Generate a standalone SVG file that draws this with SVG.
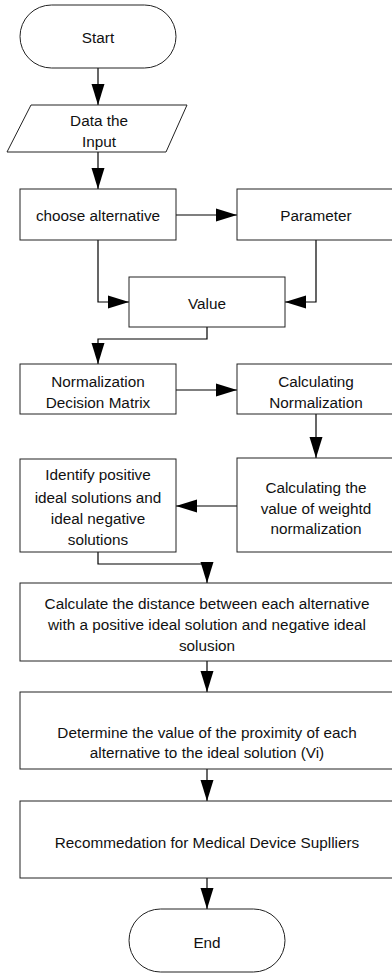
<svg xmlns="http://www.w3.org/2000/svg" width="392" height="974" viewBox="0 0 392 974">
<style>
.s{fill:#fff;stroke:#222;stroke-width:1}
.t{font-family:"Liberation Sans",Arial,sans-serif;font-size:15.3px;fill:#111;text-anchor:middle}
.c{fill:none;stroke:#000;stroke-width:1.2}
</style>
<defs>
<marker id="a" markerUnits="userSpaceOnUse" markerWidth="21" markerHeight="14" refX="21" refY="7" orient="auto">
<path d="M0,0.5 L21,7 L0,13.5 z" fill="#000"/>
</marker>
</defs>
<rect width="392" height="974" fill="#fff"/>
<g id="connectors">
<path class="c" d="M98,68 V105" marker-end="url(#a)"/>
<path class="c" d="M98,152 V189" marker-end="url(#a)"/>
<path class="c" d="M176,215 H237" marker-end="url(#a)"/>
<path class="c" d="M98,240 V302 H129" marker-end="url(#a)"/>
<path class="c" d="M316,240 V302 H285" marker-end="url(#a)"/>
<path class="c" d="M207,327 V339 H98 V364" marker-end="url(#a)"/>
<path class="c" d="M176,390 H237" marker-end="url(#a)"/>
<path class="c" d="M316,414 V458" marker-end="url(#a)"/>
<path class="c" d="M237,506 H176" marker-end="url(#a)"/>
<path class="c" d="M98,552 V564 H207 V583" marker-end="url(#a)"/>
<path class="c" d="M207,661 V692" marker-end="url(#a)"/>
<path class="c" d="M207,769 V801" marker-end="url(#a)"/>
<path class="c" d="M207,878 V909" marker-end="url(#a)"/>
</g>
<g id="start"><rect class="s" x="20" y="5" width="156" height="63" rx="31.5"/><text class="t" x="98" y="42.5">Start</text></g>
<g id="input"><path class="s" d="M31,105 H187 L166,152 H7 Z"/><text class="t" x="99" y="125.5">Data the</text><text class="t" x="99" y="146.5">Input</text></g>
<g id="choose"><rect class="s" x="20" y="189" width="156" height="51"/><text class="t" x="98" y="220.5">choose alternative</text></g>
<g id="parameter"><rect class="s" x="237" y="189" width="158" height="51"/><text class="t" x="316" y="220.5">Parameter</text></g>
<g id="value"><rect class="s" x="129" y="277" width="156" height="50"/><text class="t" x="207" y="308.5">Value</text></g>
<g id="normdm"><rect class="s" x="20" y="364" width="156" height="50"/><text class="t" x="98" y="386.5">Normalization</text><text class="t" x="98" y="407.5">Decision Matrix</text></g>
<g id="calcnorm"><rect class="s" x="237" y="364" width="158" height="50"/><text class="t" x="316" y="386.5">Calculating</text><text class="t" x="316" y="407.5">Normalization</text></g>
<g id="identify"><rect class="s" x="20" y="459" width="156" height="93"/><text class="t" x="98" y="479.5">Identify positive</text><text class="t" x="98" y="502.5">ideal solutions and</text><text class="t" x="98" y="523.5">ideal negative</text><text class="t" x="98" y="544.5">solutions</text></g>
<g id="weighted"><rect class="s" x="237" y="458" width="158" height="94"/><text class="t" x="316" y="492.5">Calculating the</text><text class="t" x="316" y="513.5">value of weightd</text><text class="t" x="316" y="533.5">normalization</text></g>
<g id="distance"><rect class="s" x="20" y="583" width="375" height="78"/><text class="t" x="207" y="608.5">Calculate the distance between each alternative</text><text class="t" x="207" y="629.5">with a positive ideal solution and negative ideal</text><text class="t" x="207" y="650.5">solusion</text></g>
<g id="proximity"><rect class="s" x="20" y="692" width="375" height="77"/><text class="t" x="207" y="737.5">Determine the value of the proximity of each</text><text class="t" x="207" y="757.5">alternative to the ideal solution (Vi)</text></g>
<g id="recommend"><rect class="s" x="20" y="801" width="375" height="77"/><text class="t" x="207" y="847.5">Recommedation for Medical Device Suplliers</text></g>
<g id="end"><rect class="s" x="129" y="909" width="156" height="63" rx="31.5"/><text class="t" x="207" y="947.5">End</text></g>
</svg>
